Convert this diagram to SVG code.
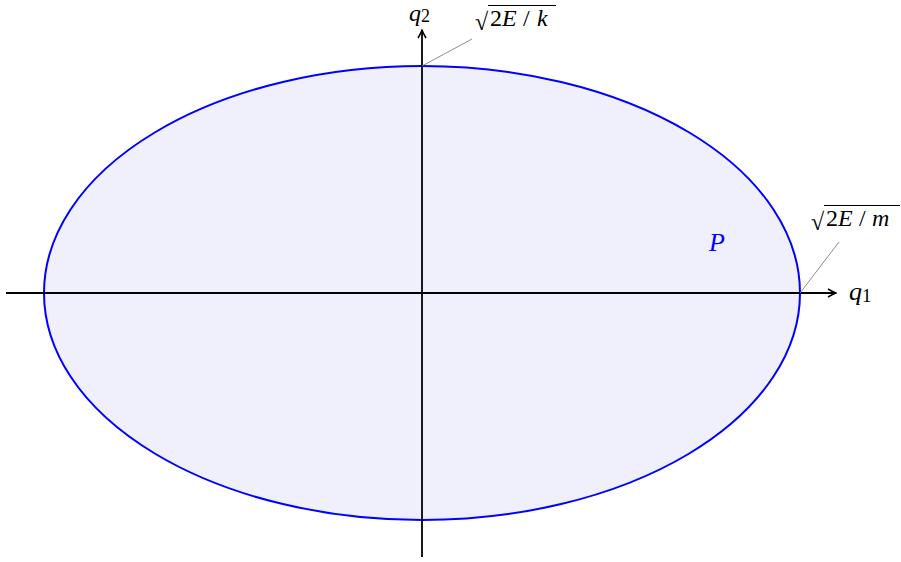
<svg xmlns="http://www.w3.org/2000/svg" width="901" height="562" viewBox="0 0 901 562">
<defs>
<style>
.m{font-family:"Liberation Serif","DejaVu Serif",serif;fill:#000}
.i{font-style:italic}
.ax{stroke:#000;stroke-width:1.8;fill:none}
.pin{stroke:#808080;stroke-width:0.9}
</style>
<marker id="arr" viewBox="0 0 10 10" refX="9" refY="5" markerWidth="10" markerHeight="10" markerUnits="userSpaceOnUse" orient="auto">
<path d="M1,1 Q6,4 9,5 Q6,6 1,9" fill="none" stroke="#000" stroke-width="1.5"/>
</marker>
</defs>
<rect width="901" height="562" fill="#fff"/>
<g id="region-P">
<ellipse cx="422" cy="293" rx="378" ry="227" fill="#f0f0fc" stroke="#0000ff" stroke-width="2"/>
<text x="709" y="251" font-size="26" class="m i" style="fill:#0000ff">P</text>
</g>
<g id="connectors">
<line class="ax" x1="6" y1="293" x2="836" y2="293" marker-end="url(#arr)"/>
<line class="ax" x1="422" y1="557" x2="422" y2="30" marker-end="url(#arr)"/>
<line class="pin" x1="422" y1="66" x2="472" y2="39"/>
<line class="pin" x1="800" y1="293" x2="839" y2="242"/>
</g>
<g id="label-q2">
<text x="409" y="21" font-size="24" class="m i">q<tspan font-size="18" font-style="normal" dy="1">2</tspan></text>
</g>
<g id="label-q1">
<text x="849" y="300" font-size="26" class="m i">q<tspan font-size="19" font-style="normal" dy="2">1</tspan></text>
</g>
<g id="label-sqrt-k">
<text x="475" y="30" font-size="24" class="m">√</text>
<line x1="488" y1="5.5" x2="556" y2="5.5" stroke="#000" stroke-width="1"/>
<text y="26" font-size="24" class="m"><tspan x="490">2</tspan><tspan x="502" font-style="italic">E</tspan><tspan x="523">/</tspan><tspan x="537" font-style="italic">k</tspan></text>
</g>
<g id="label-sqrt-m">
<text x="811" y="230" font-size="24" class="m">√</text>
<line x1="824" y1="205.5" x2="900" y2="205.5" stroke="#000" stroke-width="1"/>
<text y="226" font-size="24" class="m"><tspan x="826">2</tspan><tspan x="838" font-style="italic">E</tspan><tspan x="859">/</tspan><tspan x="872" font-style="italic">m</tspan></text>
</g>
</svg>
